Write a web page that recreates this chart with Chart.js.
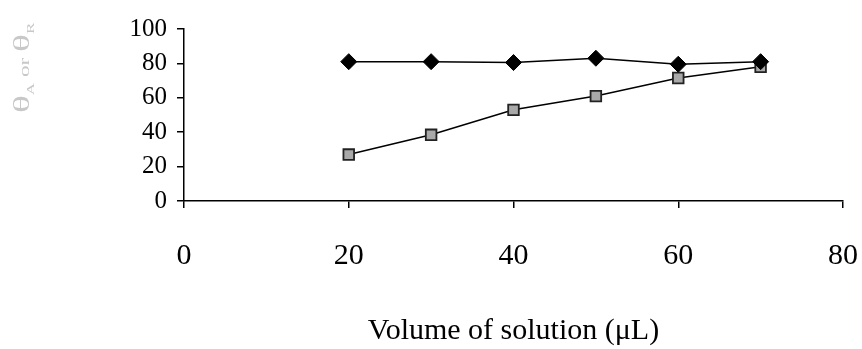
<!DOCTYPE html>
<html>
<head>
<meta charset="utf-8">
<script src="https://cdn.jsdelivr.net/npm/chart.js@4.4.1/dist/chart.umd.min.js"></script>
<style>
  html, body { margin: 0; padding: 0; background: #fff; }
  #wrap { width: 862px; height: 349px; }
</style>
</head>
<body>
<div id="wrap"><canvas id="angleChart"></canvas></div>
<script>
const volumes = [20, 30, 40, 50, 60, 70];
const thetaA = [81, 81, 80.5, 83, 79.5, 81];
const thetaR = [27, 38.5, 53, 61, 71.5, 78];
const xTicks = [0, 20, 40, 60, 80];
const yTicks = [0, 20, 40, 60, 80, 100];

const serif = "'Liberation Serif', 'Times New Roman', serif";

// y axis title with subscripts, drawn by hand
const yTitlePlugin = {
  id: "yTitle",
  afterDraw(chart) {
    const c = chart.ctx;
    c.save();
    c.translate(29, 113);
    c.rotate(-Math.PI / 2);
    c.scale(1.55, 1);
    c.fillStyle = "#c8c8c8";
    c.textBaseline = "alphabetic";
    let x = 0;
    const part = (txt, size, dy) => {
      c.font = size + "px " + serif;
      c.fillText(txt, x, dy);
      x += c.measureText(txt).width;
    };
    part("\u03B8", 24, 0);
    part("A", 11, 5);
    part(" or ", 15, 0);
    part("\u03B8", 24, 0);
    part("R", 11, 5);
    c.restore();
  },
};

const ctx = document.getElementById("angleChart").getContext("2d");

const angleChart = new Chart(ctx, {
  type: "line",
  data: {
    datasets: [
      {
        label: "\u03B8A",
        data: volumes.map((v, i) => ({ x: v, y: thetaA[i] })),
        borderColor: "#000",
        borderWidth: 1.5,
        backgroundColor: "#000",
        pointStyle: "rectRot",
        pointRadius: 8,
        pointBorderWidth: 1,
        pointBorderColor: "#000",
        tension: 0,
      },
      {
        label: "\u03B8R",
        data: volumes.map((v, i) => ({ x: v, y: thetaR[i] })),
        borderColor: "#000",
        borderWidth: 1.5,
        backgroundColor: "#a9a9a9",
        pointStyle: "rect",
        pointRadius: 7.5,
        pointBorderWidth: 1.8,
        pointBorderColor: "#222",
        tension: 0,
      },
    ],
  },
  options: {
    responsive: true,
    maintainAspectRatio: false,
    animation: false,
    layout: {
      padding: { left: 0, right: 19, top: 29, bottom: 0 },
    },
    scales: {
      x: {
        type: "linear",
        min: 0,
        max: 80,
        afterBuildTicks: (scale) => {
          scale.ticks = xTicks.map((v) => ({ value: v }));
        },
        afterFit: (scale) => {
          scale.paddingRight = 0;
          scale.height = 148;
        },
        grid: {
          drawOnChartArea: false,
          drawTicks: true,
          tickLength: 7,
          color: "#000",
          lineWidth: 1.5,
        },
        border: { display: true, color: "#000", width: 1.5 },
        ticks: {
          color: "#000",
          font: { family: serif, size: 30 },
          padding: 30,
          maxRotation: 0,
        },
        title: {
          display: true,
          text: "Volume of solution (\u03BCL)",
          color: "#000",
          font: { family: serif, size: 30 },
          padding: { top: 28, bottom: 0 },
        },
      },
      y: {
        min: 0,
        max: 100,
        afterBuildTicks: (scale) => {
          scale.ticks = yTicks.map((v) => ({ value: v }));
        },
        afterFit: (scale) => {
          scale.width = 184;
        },
        grid: {
          drawOnChartArea: false,
          drawTicks: true,
          tickLength: 7,
          color: "#000",
          lineWidth: 1.5,
        },
        border: { display: true, color: "#000", width: 1.5 },
        ticks: {
          color: "#000",
          font: { family: serif, size: 25 },
          padding: 10,
        },
      },
    },
    plugins: {
      legend: { display: false },
      tooltip: { enabled: false },
    },
  },
  plugins: [yTitlePlugin],
});
</script>
</body>
</html>
